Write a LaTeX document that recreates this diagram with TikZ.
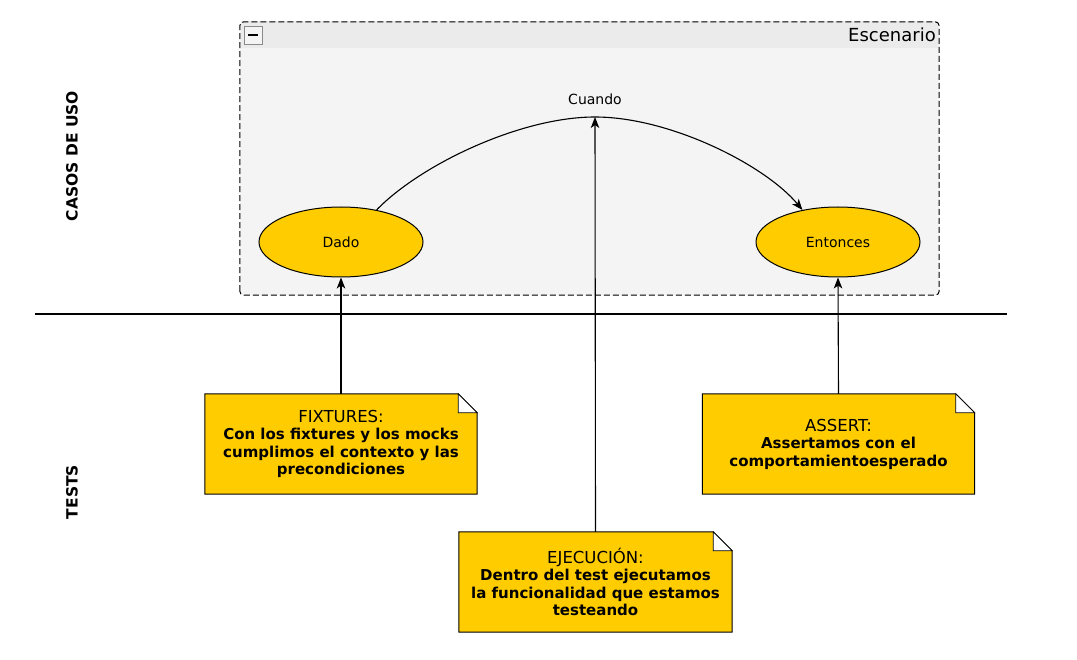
\documentclass[tikz,border=0pt]{standalone}
\usepackage{fontspec}
\setmainfont{DejaVu Sans}
\usetikzlibrary{arrows.meta,shapes.geometric,backgrounds}

\definecolor{gold}{HTML}{FFCC00}
\definecolor{panel}{HTML}{F4F4F4}
\definecolor{panelhead}{HTML}{EBEBEB}
\definecolor{iconframe}{HTML}{8A8A8A}

\tikzset{
  usecase/.style={ellipse, draw=black, line width=1pt, fill=gold,
    minimum width=164pt, minimum height=70pt, inner sep=0pt,
    font=\fontsize{14}{16}\selectfont},
  notetext/.style={minimum width=272pt, minimum height=100pt, inner sep=0pt,
    align=center, font=\fontsize{15}{17.5}\selectfont\bfseries},
  notebody/.style={fill=gold, draw=black, line width=1pt},
  fold/.style={fill=white, draw=black, line width=0.8pt},
  link/.style={line width=1.1pt, -{Stealth[length=11pt,width=8.5pt,inset=3pt]}},
  lane/.style={rotate=90, font=\fontsize{15.5}{18}\selectfont\bfseries},
}

% folded note outline around a named node
\newcommand{\drawnote}[1]{%
  \draw[notebody] (#1.south west) -- (#1.north west)
    -- ([xshift=-19pt]#1.north east) -- ([yshift=-19pt]#1.north east)
    -- (#1.south east) -- cycle;
  \draw[fold] ([xshift=-19pt]#1.north east) -- ([xshift=-19pt,yshift=-19pt]#1.north east)
    -- ([yshift=-19pt]#1.north east) -- cycle;}
\newcommand{\ntitle}[1]{{\fontsize{16.5}{17.5}\selectfont\mdseries #1}}

\begin{document}
\begin{tikzpicture}[x=1pt, y=-1pt]
\useasboundingbox (0,0) rectangle (1077,660);

% lane labels and separator
\node[lane] (casos) at (72,156) {CASOS DE USO};
\node[lane] (tests) at (72,492) {TESTS};
\coordinate (sepL) at (35,314);
\coordinate (sepR) at (1007,314);
\draw[line width=1.1pt] (sepL) -- (sepR);

% scenario frame
\node[minimum width=699pt, minimum height=273pt, inner sep=0pt] (esc) at (589.5,158.5) {};
\node[anchor=east, inner sep=0pt, font=\fontsize{18}{20}\selectfont] (esctitle) at (936,35) {Escenario};
\node[draw=iconframe, fill=panel, line width=0.8pt, minimum size=18pt, inner sep=0pt] (icon) at (253,35.5) {};
\draw[line width=2pt] ([xshift=-5pt]icon.center) -- ([xshift=5pt]icon.center);

% use cases
\node[usecase] (dado) at (341,242) {Dado};
\node[usecase] (entonces) at (838,242) {Entonces};
\node[font=\fontsize{14}{16}\selectfont, inner sep=0pt] (cuando) at (595,99) {Cuando};
\coordinate (peak) at (595,117);

% notes
\node[notetext] (fix) at (341,444) {\ntitle{FIXTURES:}\\Con los fixtures y los mocks\\cumplimos el contexto y las\\precondiciones};
\node[notetext] (assert) at (838.5,444) {\ntitle{ASSERT:}\\Assertamos con el\\comportamientoesperado};
\node[notetext, minimum width=273pt] (ejec) at (595.5,582) {\ntitle{EJECUCIÓN:}\\Dentro del test ejecutamos\\la funcionalidad que estamos\\testeando};

\begin{scope}[on background layer]
  \fill[panel, rounded corners=4pt] (esc.south west) rectangle (esc.north east);
  \fill[panelhead] ([shift={(1pt,1pt)}]esc.north west) rectangle ([shift={(-1pt,0pt)}]esc.north east |- 0,48);
  \draw[line width=1pt, dash pattern=on 6pt off 3pt, rounded corners=4pt] (esc.south west) rectangle (esc.north east);
  \drawnote{fix}
  \drawnote{assert}
  \drawnote{ejec}
\end{scope}

% flow
\draw[line width=1.1pt] (dado.42) .. controls (420,165) and (520,117) .. (peak);
\draw[link] (peak) .. controls (670,117) and (765,165) .. (entonces.138);
\draw[link] (fix.north) -- (dado.south);
\draw[link] (assert.north) -- (entonces.south);
\draw[link] (ejec.north) -- (peak);
\end{tikzpicture}
\end{document}
